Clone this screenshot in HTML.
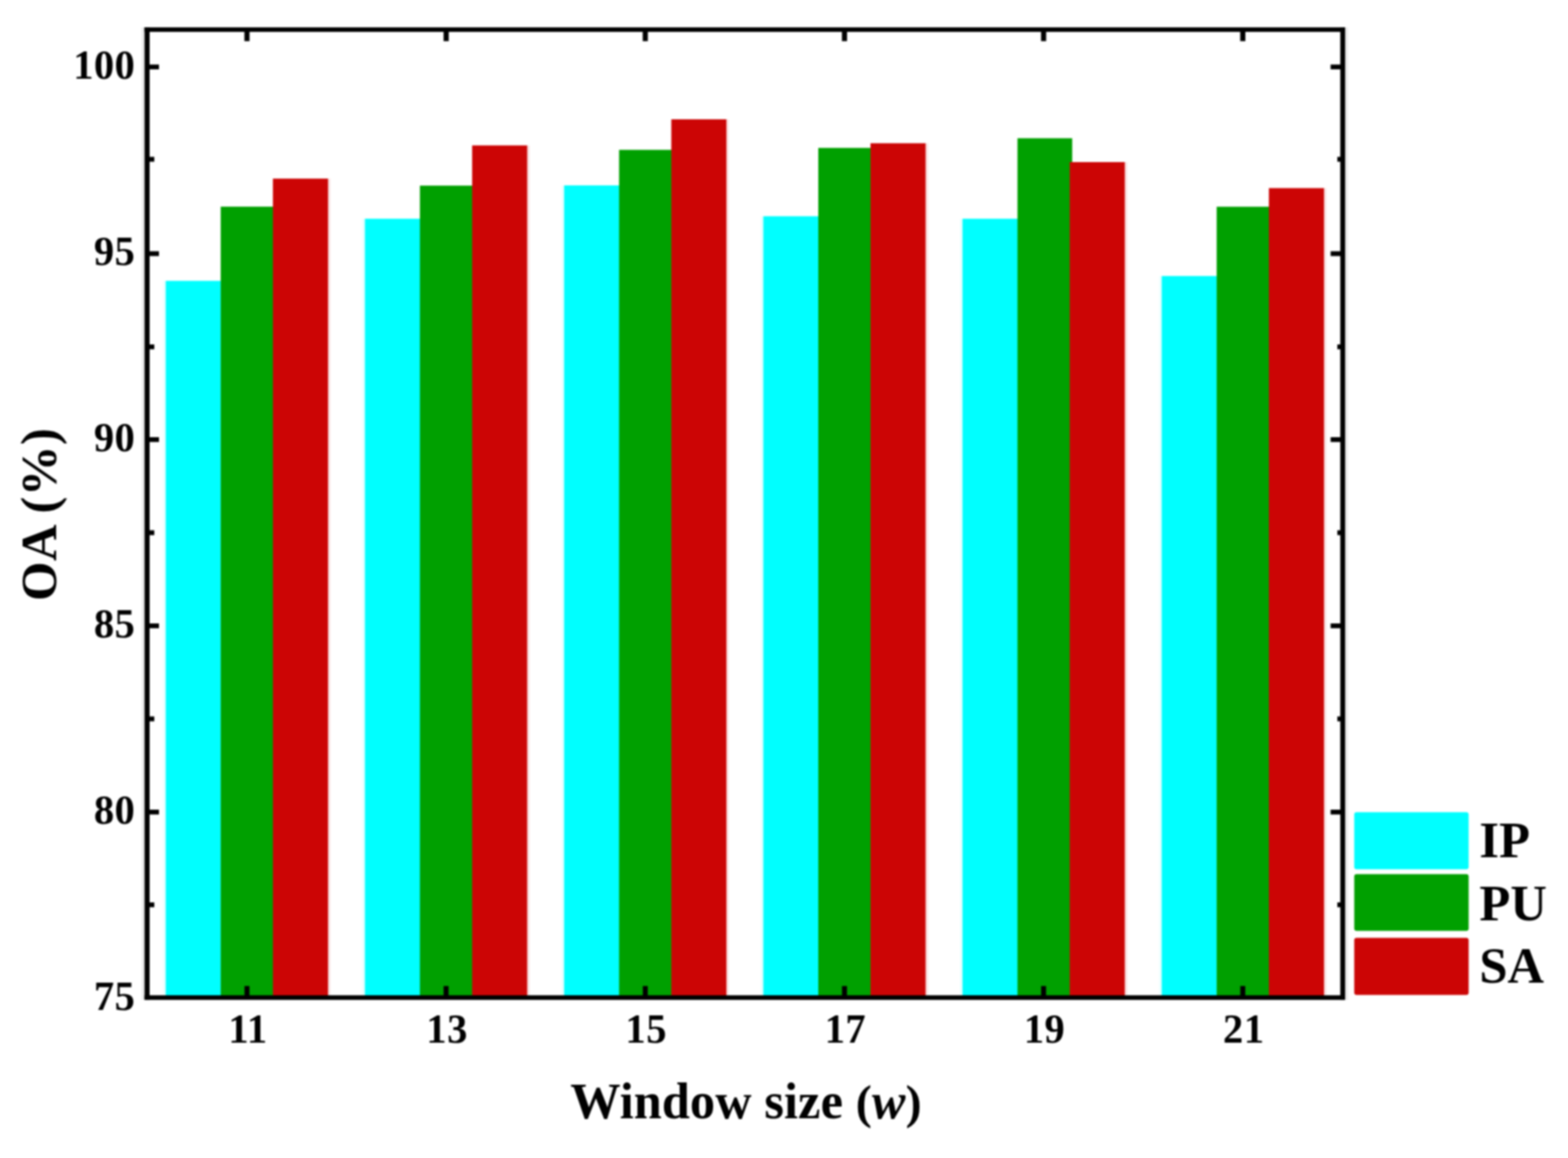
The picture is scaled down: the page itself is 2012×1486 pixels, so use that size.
<!DOCTYPE html>
<html lang="en"><head><meta charset="utf-8"><title>OA vs window size</title>
<style>
html,body{margin:0;padding:0;background:#fff;}
body{width:2012px;height:1486px;overflow:hidden;}
svg{display:block;filter:blur(0.8px);}
text{font-family:"Liberation Serif","DejaVu Serif",serif;font-weight:bold;fill:#000;}
.tk{font-size:52px;letter-spacing:0.6px;}
.ttl{font-size:64.6px;letter-spacing:0.12px;}
.yttl{font-size:65px;letter-spacing:0.7px;}
.lg{font-size:65px;}
.it{font-style:italic;}
.pr{font-size:62px;}
</style></head><body>
<svg width="2012" height="1486" viewBox="0 0 2012 1486">
<rect x="0" y="0" width="2012" height="1486" fill="#fff"/>
<g id="bars">
<rect x="212.7" y="360.4" width="71.0" height="917.8" fill="#00ffff"/>
<rect x="283.2" y="265.2" width="70.2" height="1013.0" fill="#00a000"/>
<rect x="350.2" y="229.2" width="70.7" height="1049.0" fill="#cc0505"/>
<rect x="468.3" y="280.7" width="71.0" height="997.5" fill="#00ffff"/>
<rect x="538.8" y="238.2" width="70.2" height="1040.0" fill="#00a000"/>
<rect x="605.8" y="186.6" width="70.7" height="1091.6" fill="#cc0505"/>
<rect x="723.9" y="237.9" width="71.0" height="1040.3" fill="#00ffff"/>
<rect x="794.4" y="192.3" width="70.2" height="1085.9" fill="#00a000"/>
<rect x="861.4" y="153.1" width="70.7" height="1125.1" fill="#cc0505"/>
<rect x="979.5" y="277.5" width="71.0" height="1000.7" fill="#00ffff"/>
<rect x="1050.0" y="189.8" width="70.2" height="1088.4" fill="#00a000"/>
<rect x="1117.0" y="183.8" width="70.7" height="1094.4" fill="#cc0505"/>
<rect x="1235.1" y="280.7" width="71.0" height="997.5" fill="#00ffff"/>
<rect x="1305.6" y="177.4" width="70.2" height="1100.8" fill="#00a000"/>
<rect x="1372.6" y="208.0" width="70.7" height="1070.2" fill="#cc0505"/>
<rect x="1490.7" y="354.2" width="71.0" height="924.0" fill="#00ffff"/>
<rect x="1561.2" y="265.3" width="70.2" height="1012.9" fill="#00a000"/>
<rect x="1628.2" y="241.4" width="70.7" height="1036.8" fill="#cc0505"/>
</g>
<g id="halo">
<rect x="181.8" y="35.1" width="4" height="1248.0" fill="#000" fill-opacity="0.08"/>
<rect x="1725.5" y="35.1" width="4" height="1248.0" fill="#000" fill-opacity="0.09"/>
<rect x="420.9" y="229.2" width="3" height="1048.0" fill="#cc0505" fill-opacity="0.12"/>
<rect x="209.7" y="360.4" width="3" height="916.8" fill="#00ffff" fill-opacity="0.1"/>
<rect x="676.5" y="186.6" width="3" height="1090.6" fill="#cc0505" fill-opacity="0.12"/>
<rect x="465.3" y="280.7" width="3" height="996.5" fill="#00ffff" fill-opacity="0.1"/>
<rect x="932.1" y="153.1" width="3" height="1124.1" fill="#cc0505" fill-opacity="0.12"/>
<rect x="720.9" y="237.9" width="3" height="1039.3" fill="#00ffff" fill-opacity="0.1"/>
<rect x="1187.7" y="183.8" width="3" height="1093.4" fill="#cc0505" fill-opacity="0.12"/>
<rect x="976.5" y="277.5" width="3" height="999.7" fill="#00ffff" fill-opacity="0.1"/>
<rect x="1443.3" y="208.0" width="3" height="1069.2" fill="#cc0505" fill-opacity="0.12"/>
<rect x="1232.1" y="280.7" width="3" height="996.5" fill="#00ffff" fill-opacity="0.1"/>
<rect x="1698.9" y="241.4" width="3" height="1035.8" fill="#cc0505" fill-opacity="0.12"/>
<rect x="1487.7" y="354.2" width="3" height="923.0" fill="#00ffff" fill-opacity="0.1"/>
</g>
<g id="axes" fill="#000">
<rect x="185.5" y="35.1" width="6.5" height="1248.0"/>
<rect x="1719.8" y="35.1" width="6.2" height="1248.0"/>
<rect x="185.5" y="35.1" width="1540.5" height="5.8"/>
<rect x="185.5" y="1277.2" width="1540.5" height="5.9"/>
<rect x="191.0" y="1039.0" width="13.0" height="6.2"/>
<rect x="1707.4" y="1039.0" width="13.4" height="6.2"/>
<rect x="191.0" y="800.0" width="13.0" height="6.2"/>
<rect x="1707.4" y="800.0" width="13.4" height="6.2"/>
<rect x="191.0" y="561.0" width="13.0" height="6.2"/>
<rect x="1707.4" y="561.0" width="13.4" height="6.2"/>
<rect x="191.0" y="322.4" width="13.0" height="6.2"/>
<rect x="1707.4" y="322.4" width="13.4" height="6.2"/>
<rect x="191.0" y="82.8" width="13.0" height="6.2"/>
<rect x="1707.4" y="82.8" width="13.4" height="6.2"/>
<rect x="191.0" y="1158.0" width="7.0" height="6.2"/>
<rect x="1716.0" y="1158.0" width="4.8" height="6.2"/>
<rect x="191.0" y="919.4" width="7.0" height="6.2"/>
<rect x="1716.0" y="919.4" width="4.8" height="6.2"/>
<rect x="191.0" y="680.5" width="7.0" height="6.2"/>
<rect x="1716.0" y="680.5" width="4.8" height="6.2"/>
<rect x="191.0" y="442.0" width="7.0" height="6.2"/>
<rect x="1716.0" y="442.0" width="4.8" height="6.2"/>
<rect x="191.0" y="201.3" width="7.0" height="6.2"/>
<rect x="1716.0" y="201.3" width="4.8" height="6.2"/>
<rect x="313.6" y="39.9" width="6.6" height="12.9"/>
<rect x="313.7" y="1265.3" width="6.4" height="12.9"/>
<rect x="569.2" y="39.9" width="6.6" height="12.9"/>
<rect x="569.2" y="1265.3" width="6.4" height="12.9"/>
<rect x="824.7" y="39.9" width="6.6" height="12.9"/>
<rect x="824.8" y="1265.3" width="6.4" height="12.9"/>
<rect x="1080.3" y="39.9" width="6.6" height="12.9"/>
<rect x="1080.4" y="1265.3" width="6.4" height="12.9"/>
<rect x="1335.8" y="39.9" width="6.6" height="12.9"/>
<rect x="1335.9" y="1265.3" width="6.4" height="12.9"/>
<rect x="1591.4" y="39.9" width="6.6" height="12.9"/>
<rect x="1591.5" y="1265.3" width="6.4" height="12.9"/>
</g>
<g id="labels">
<text class="tk" x="173.7" y="1295.5" text-anchor="end">75</text>
<text class="tk" x="173.7" y="1056.7" text-anchor="end">80</text>
<text class="tk" x="173.7" y="817.7" text-anchor="end">85</text>
<text class="tk" x="173.7" y="578.7" text-anchor="end">90</text>
<text class="tk" x="173.7" y="340.1" text-anchor="end">95</text>
<text class="tk" x="173.7" y="100.5" text-anchor="end">100</text>
<text class="tk" x="318.1" y="1338.0" text-anchor="middle">11</text>
<text class="tk" x="573.7" y="1338.0" text-anchor="middle">13</text>
<text class="tk" x="829.2" y="1338.0" text-anchor="middle">15</text>
<text class="tk" x="1084.8" y="1338.0" text-anchor="middle">17</text>
<text class="tk" x="1340.3" y="1338.0" text-anchor="middle">19</text>
<text class="tk" x="1595.9" y="1338.0" text-anchor="middle">21</text>
<text class="ttl" x="957.2" y="1435.1" text-anchor="middle">Window size <tspan class="pr">(</tspan><tspan class="it">w</tspan><tspan class="pr">)</tspan></text>
<text class="yttl" transform="translate(72,660) rotate(-90)" text-anchor="middle">OA (%)</text>
</g>
<g id="legend">
<rect x="1737.7" y="1042.3" width="146.8" height="73.1" rx="3" fill="#00ffff"/>
<text class="lg" x="1898.2" y="1100.0">IP</text>
<rect x="1737.7" y="1121.8" width="146.8" height="72.6" rx="3" fill="#00a000"/>
<text class="lg" x="1898.2" y="1180.5">PU</text>
<rect x="1737.7" y="1203.5" width="146.8" height="73.3" rx="3" fill="#cc0505"/>
<text class="lg" x="1898.2" y="1260.7">SA</text>
</g>
</svg>
</body></html>
